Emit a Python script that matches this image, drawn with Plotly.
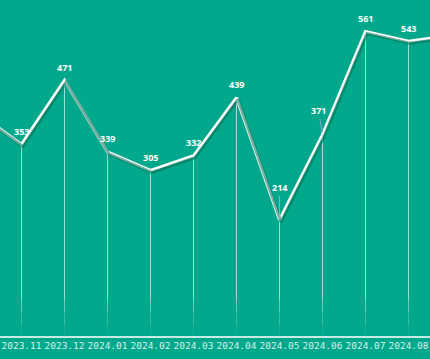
import plotly.graph_objects as go

months = ["2023.10", "2023.11", "2023.12", "2024.01", "2024.02", "2024.03",
          "2024.04", "2024.05", "2024.06", "2024.07", "2024.08", "2024.09"]
values = [410, 353, 471, 339, 305, 332, 439, 214, 371, 561, 543, 554]

BG = "#02a88b"
idx = list(range(len(months)))

fig = go.Figure()

# drop lines (fading near the baseline)
fade = [(None, 66, 0.6), (66, 44, 0.4), (44, 22, 0.22), (22, 0, 0.08)]
for top, bot, op in fade:
    xs, ys = [], []
    for i, v in zip(idx, values):
        t = v if top is None else min(top, v)
        if t <= bot:
            continue
        xs += [i, i, None]
        ys += [t, bot, None]
    fig.add_trace(go.Scatter(x=xs, y=ys, mode="lines",
                             line=dict(color=f"rgba(255,255,255,{op})", width=1),
                             hoverinfo="skip", showlegend=False))

# shadow of the main line (drawn on slightly shifted axes)
fig.add_trace(go.Scatter(x=idx, y=values, mode="lines", xaxis="x2", yaxis="y2",
                         line=dict(color="rgba(0,110,85,0.55)", width=3),
                         hoverinfo="skip", showlegend=False))
# main line
fig.add_trace(go.Scatter(x=idx, y=values, mode="lines",
                         line=dict(color="#ffffff", width=3),
                         showlegend=False))

# value labels
special = {7: (0, -32), 8: (-4, -24)}
for i, v in zip(idx, values):
    if i == 0 or i == len(idx) - 1:
        continue
    if i in special:
        ax, ay = special[i]
        fig.add_annotation(x=i, y=v, text=str(v), showarrow=True, arrowhead=0,
                           arrowwidth=1, arrowcolor="#8da6d6", ax=ax, ay=ay,
                           standoff=2,
                           font=dict(family="Open Sans", size=9, color="#ffffff",
                                     weight="bold"))
    else:
        fig.add_annotation(x=i, y=v, text=str(v), showarrow=False, yshift=13,
                           font=dict(family="Open Sans", size=9, color="#ffffff",
                                     weight="bold"))

ymax = 619
# pixel shifts for shadow: plot width 430 px over 10 units, height 336 px over ymax
dx = 1.5 * 10 / 430
dy = 2.0 * ymax / 336

fig.update_layout(
    width=430, height=359,
    margin=dict(l=0, r=0, t=0, b=23),
    paper_bgcolor=BG, plot_bgcolor=BG,
    xaxis=dict(range=[0.5, 10.5], tickmode="array", tickvals=idx, ticktext=months,
               showgrid=False, zeroline=False, showline=True,
               linecolor="#c6ebe2", linewidth=1.5, ticks="",
               tickfont=dict(family="DejaVu Sans Mono", size=9.5, color="#d6f2eb")),
    yaxis=dict(range=[0, ymax], showgrid=False, zeroline=False,
               showticklabels=False, showline=False),
    xaxis2=dict(range=[0.5 - dx, 10.5 - dx], overlaying="x", visible=False),
    yaxis2=dict(range=[0 + dy, ymax + dy], overlaying="y", visible=False),
)

fig.write_html("out.html", config={"displayModeBar": False},
               post_script="document.body.style.margin='0';document.body.style.overflow='hidden';")
